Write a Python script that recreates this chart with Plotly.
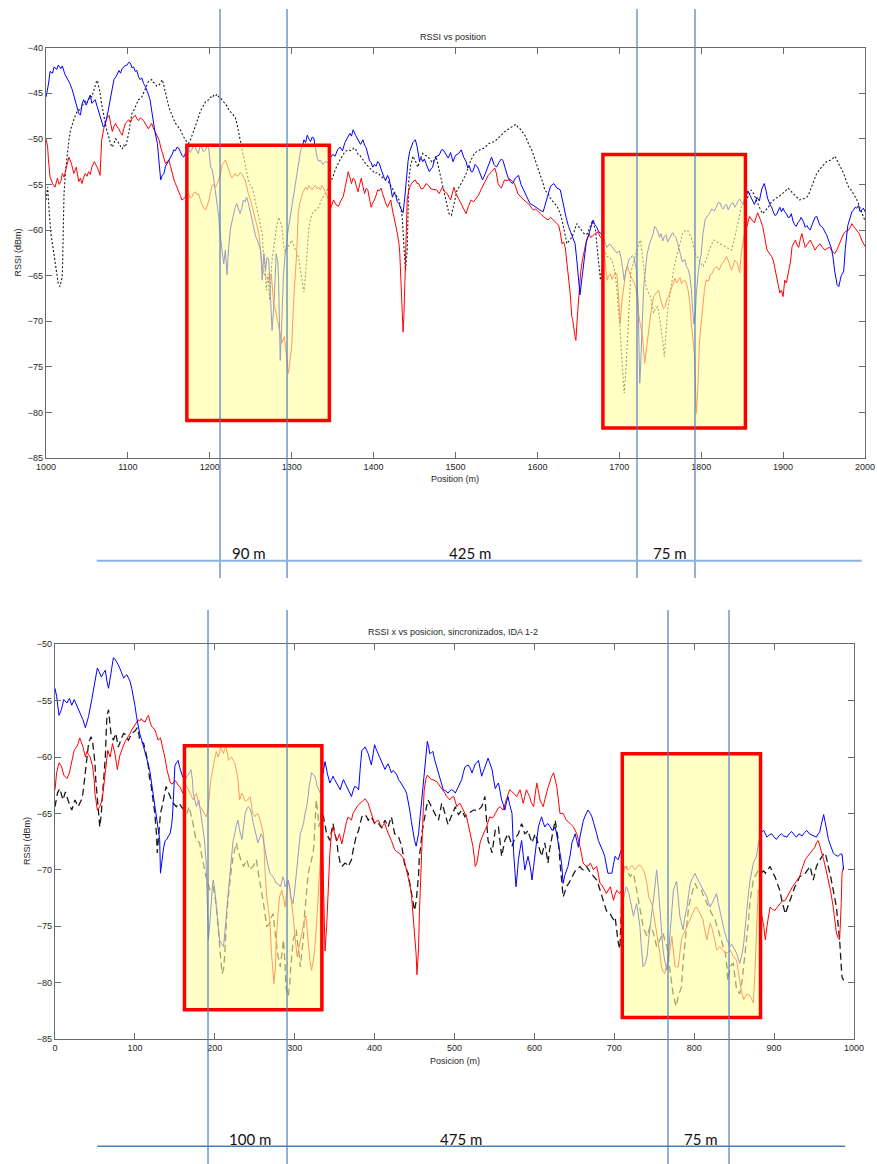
import plotly.graph_objects as go

# ---------------- measured RSSI traces (position m, RSSI dBm) ----------------
# Upper panel: "RSSI vs position"
top_blue = [
    (1000, -45.4), (1003, -44.0), (1005, -42.6), (1008, -42.8), (1010, -42.1), (1013, -42.4), (1015, -41.9), (1018, -42.3),
    (1020, -42.0), (1023, -42.9), (1026, -43.4), (1029, -43.9), (1032, -44.6), (1035, -45.6), (1038, -46.5), (1040, -47.2),
    (1042, -47.4), (1044, -46.2), (1046, -45.7), (1049, -46.3), (1052, -45.6), (1054, -45.2), (1056, -46.1), (1058, -45.9),
    (1060, -45.7), (1063, -46.6), (1066, -47.6), (1068, -48.3), (1070, -48.7), (1072, -48.5), (1074, -47.8), (1076, -46.9),
    (1079, -45.4), (1081, -44.3), (1083, -43.5), (1086, -43.1), (1089, -42.5), (1091, -42.8), (1093, -42.3), (1096, -42.0),
    (1099, -41.9), (1101, -41.6), (1103, -41.7), (1105, -42.2), (1107, -42.1), (1109, -42.6), (1111, -42.5), (1113, -43.2),
    (1115, -43.5), (1117, -43.3), (1119, -43.9), (1121, -44.2), (1123, -44.6), (1125, -45.1), (1127, -45.7), (1129, -46.9),
    (1131, -48.3), (1133, -49.2), (1136, -50.5), (1138, -52.6), (1140, -54.5), (1142, -54.0), (1144, -53.8), (1146, -53.0),
    (1148, -52.7), (1150, -52.4), (1152, -52.0), (1154, -51.7), (1156, -51.2), (1158, -51.3), (1160, -50.9), (1162, -51.0),
    (1164, -51.4), (1166, -51.8), (1168, -52.0), (1171, -51.4), (1174, -50.9), (1176, -51.5), (1178, -51.2), (1180, -50.7),
    (1182, -50.9), (1184, -51.3), (1186, -51.6), (1188, -50.8), (1190, -50.9), (1192, -51.4), (1195, -51.2), (1197, -50.7),
    (1199, -51.2), (1201, -53.1), (1203, -53.4), (1205, -54.5), (1207, -55.8), (1209, -57.1), (1211, -58.6), (1212, -60.0),
    (1214, -61.5), (1215, -62.6), (1217, -63.7), (1219, -62.2), (1221, -64.9), (1223, -62.0), (1225, -60.0), (1227, -59.1),
    (1229, -58.2), (1231, -57.5), (1233, -57.1), (1235, -57.7), (1237, -58.2), (1239, -57.6), (1241, -56.7), (1243, -56.9),
    (1245, -56.4), (1247, -57.0), (1249, -57.8), (1251, -58.7), (1254, -60.0), (1256, -60.7), (1258, -61.1), (1260, -61.8),
    (1262, -62.2), (1264, -65.5), (1266, -62.6), (1268, -64.4), (1270, -63.0), (1272, -63.3), (1274, -66.5), (1275, -68.4),
    (1276, -71.0), (1278, -68.5), (1279, -67.0), (1281, -62.6), (1283, -63.5), (1284, -65.5), (1285, -70.0), (1286, -74.3),
    (1288, -69.9), (1290, -64.8), (1292, -62.6), (1294, -61.5), (1295, -60.4), (1298, -58.6), (1300, -57.5), (1302, -56.4),
    (1304, -55.0), (1306, -53.8), (1308, -52.5), (1311, -51.2), (1313, -50.8), (1315, -50.1), (1317, -50.4), (1319, -49.6),
    (1321, -50.0), (1323, -50.3), (1325, -49.8), (1327, -49.9), (1329, -51.0), (1331, -52.0), (1333, -52.5), (1335, -52.3),
    (1338, -52.8), (1341, -52.5), (1344, -52.6), (1347, -52.2), (1350, -51.7), (1353, -51.9), (1356, -51.2), (1359, -50.9),
    (1362, -51.3), (1365, -50.4), (1367, -50.0), (1369, -49.6), (1371, -49.4), (1373, -49.7), (1375, -49.0), (1378, -49.6),
    (1381, -50.1), (1384, -50.6), (1387, -50.1), (1389, -50.7), (1391, -51.0), (1393, -51.8), (1395, -52.4), (1397, -52.6),
    (1399, -53.1), (1401, -52.8), (1403, -53.0), (1405, -52.5), (1407, -52.7), (1409, -53.3), (1411, -53.8), (1413, -54.3),
    (1415, -54.5), (1417, -54.0), (1419, -54.4), (1421, -55.6), (1423, -56.4), (1425, -55.9), (1427, -56.2), (1429, -56.9),
    (1431, -57.1), (1433, -57.6), (1435, -57.9), (1436, -58.1), (1438, -56.5), (1440, -54.2), (1442, -52.5), (1444, -51.4),
    (1446, -50.9), (1448, -50.4), (1451, -50.1), (1453, -50.8), (1456, -52.4), (1458, -52.1), (1460, -52.5), (1462, -52.2),
    (1464, -52.7), (1466, -53.2), (1468, -53.6), (1470, -53.3), (1472, -53.1), (1474, -52.4), (1477, -51.9), (1480, -51.8),
    (1483, -51.2), (1485, -51.2), (1488, -51.6), (1491, -52.1), (1494, -51.5), (1497, -52.5), (1500, -51.8), (1504, -51.6),
    (1507, -51.2), (1510, -52.0), (1513, -52.5), (1515, -53.2), (1517, -53.0), (1519, -53.6), (1521, -53.6), (1524, -52.8),
    (1527, -53.1), (1530, -53.8), (1533, -54.5), (1536, -53.9), (1538, -53.4), (1541, -52.6), (1544, -52.0), (1547, -52.8),
    (1550, -53.1), (1553, -52.6), (1556, -52.2), (1558, -52.4), (1561, -53.4), (1564, -54.2), (1567, -54.7), (1570, -54.9),
    (1573, -54.3), (1577, -54.0), (1580, -55.0), (1583, -55.6), (1587, -56.2), (1591, -57.1), (1595, -57.3), (1599, -57.6),
    (1603, -57.8), (1607, -58.0), (1610, -57.1), (1613, -56.0), (1616, -55.2), (1620, -54.9), (1624, -55.4), (1628, -55.6),
    (1632, -57.5), (1635, -58.6), (1638, -59.6), (1642, -60.5), (1646, -61.5), (1648, -63.2), (1650, -65.5), (1652, -67.1),
    (1654, -65.6), (1656, -64.0), (1658, -62.5), (1660, -61.1), (1662, -60.7), (1664, -60.0), (1666, -59.6), (1668, -58.9),
    (1670, -59.4), (1672, -59.6), (1675, -60.2), (1678, -60.4), (1681, -61.0), (1685, -61.9), (1688, -61.5), (1691, -61.8),
    (1694, -62.2), (1697, -62.5), (1700, -62.3), (1702, -63.0), (1704, -64.2), (1706, -65.5), (1708, -64.5), (1710, -63.7),
    (1712, -63.2), (1714, -63.0), (1716, -62.8), (1718, -63.0), (1720, -63.8), (1721, -64.5), (1723, -68.0), (1724, -72.0),
    (1725, -76.8), (1726, -75.0), (1727, -72.0), (1729, -68.0), (1730, -66.0), (1732, -64.0), (1734, -62.6), (1737, -61.5),
    (1739, -61.0), (1741, -60.5), (1743, -59.6), (1745, -59.8), (1747, -60.2), (1749, -60.8), (1751, -60.4), (1753, -61.2),
    (1755, -60.7), (1757, -60.5), (1759, -61.3), (1761, -61.0), (1763, -60.6), (1765, -60.3), (1767, -60.6), (1769, -60.8),
    (1771, -61.4), (1773, -62.0), (1775, -62.8), (1777, -63.5), (1780, -63.2), (1782, -64.0), (1784, -64.3), (1786, -65.0),
    (1788, -66.5), (1789, -68.0), (1791, -70.3), (1793, -69.0), (1794, -67.0), (1796, -65.0), (1798, -63.5), (1800, -62.7),
    (1802, -60.5), (1805, -58.8), (1807, -58.6), (1809, -58.3), (1811, -58.0), (1813, -57.7), (1816, -57.9), (1819, -57.4),
    (1821, -57.0), (1823, -57.0), (1825, -57.5), (1827, -57.7), (1829, -57.3), (1831, -57.2), (1833, -57.8), (1835, -57.4),
    (1837, -57.1), (1839, -57.0), (1841, -57.5), (1843, -57.2), (1845, -56.8), (1847, -56.6), (1849, -57.0), (1851, -57.2),
    (1853, -56.5), (1855, -56.3), (1857, -55.7), (1859, -56.1), (1862, -56.8), (1865, -57.2), (1868, -56.4), (1871, -56.8),
    (1874, -55.5), (1877, -54.9), (1879, -55.6), (1881, -56.5), (1884, -57.2), (1886, -57.5), (1888, -58.0), (1890, -58.4),
    (1892, -58.3), (1894, -57.8), (1896, -57.5), (1898, -58.0), (1900, -57.6), (1902, -58.0), (1904, -58.2), (1906, -58.6),
    (1908, -58.6), (1910, -58.2), (1912, -59.0), (1914, -59.4), (1916, -59.6), (1918, -59.2), (1920, -59.0), (1922, -58.6),
    (1925, -59.1), (1927, -59.7), (1929, -59.5), (1931, -59.8), (1933, -60.0), (1935, -59.5), (1937, -59.0), (1939, -58.6),
    (1941, -58.5), (1943, -59.0), (1945, -59.5), (1947, -59.6), (1949, -59.8), (1951, -60.2), (1953, -60.5), (1955, -61.0),
    (1957, -61.5), (1959, -62.0), (1961, -63.0), (1963, -64.5), (1966, -66.0), (1968, -66.2), (1970, -65.4), (1971, -65.0),
    (1974, -64.5), (1976, -62.0), (1979, -59.5), (1982, -58.5), (1984, -58.0), (1986, -57.8), (1988, -57.5), (1990, -57.6),
    (1992, -57.3), (1994, -58.0), (1996, -57.8), (1998, -57.6), (2000, -58.0),
]

top_red = [
    (1000, -50.0), (1002, -50.9), (1003, -52.3), (1005, -54.2), (1008, -54.9), (1011, -55.3), (1014, -54.3), (1016, -55.0),
    (1018, -54.7), (1020, -53.8), (1022, -54.2), (1024, -53.4), (1026, -52.6), (1028, -52.0), (1031, -52.7), (1034, -53.8),
    (1037, -53.1), (1040, -54.7), (1042, -54.3), (1044, -54.9), (1046, -54.2), (1048, -53.8), (1050, -54.1), (1052, -53.6),
    (1054, -53.9), (1056, -53.1), (1059, -52.5), (1062, -53.1), (1064, -53.4), (1066, -54.0), (1067, -52.0), (1068, -50.1),
    (1071, -48.7), (1074, -47.8), (1077, -47.4), (1079, -48.3), (1081, -49.2), (1083, -48.6), (1085, -48.3), (1087, -48.7),
    (1089, -48.9), (1091, -49.3), (1093, -49.6), (1095, -48.9), (1097, -48.3), (1099, -48.1), (1101, -47.9), (1103, -48.2),
    (1105, -47.8), (1107, -47.6), (1109, -47.4), (1111, -47.8), (1113, -48.0), (1115, -47.7), (1117, -47.8), (1119, -48.0),
    (1121, -48.3), (1123, -48.6), (1125, -48.9), (1127, -48.6), (1129, -48.3), (1131, -48.8), (1133, -49.2), (1135, -49.6),
    (1138, -50.1), (1140, -50.9), (1142, -51.6), (1144, -52.3), (1146, -52.7), (1148, -52.5), (1150, -52.3), (1152, -53.0),
    (1154, -53.8), (1156, -54.4), (1158, -54.9), (1160, -55.3), (1162, -55.6), (1164, -56.2), (1166, -56.7), (1168, -56.6),
    (1170, -56.4), (1172, -56.0), (1174, -56.0), (1176, -56.5), (1178, -56.4), (1180, -56.0), (1182, -55.8), (1184, -56.1),
    (1186, -56.0), (1188, -56.6), (1190, -57.1), (1192, -57.5), (1195, -57.8), (1197, -57.3), (1199, -56.7), (1201, -55.8),
    (1203, -55.1), (1205, -55.0), (1207, -55.3), (1209, -54.9), (1211, -54.5), (1213, -53.8), (1215, -52.9), (1217, -52.6),
    (1219, -52.3), (1221, -52.8), (1223, -53.4), (1225, -53.9), (1227, -54.3), (1229, -54.0), (1231, -53.8), (1233, -54.1),
    (1235, -54.0), (1237, -53.7), (1239, -53.8), (1241, -54.2), (1243, -54.5), (1245, -55.2), (1247, -56.0), (1250, -56.8),
    (1252, -57.5), (1254, -58.2), (1256, -58.9), (1258, -59.6), (1260, -60.4), (1262, -62.3), (1264, -64.0), (1266, -64.7),
    (1268, -65.1), (1270, -65.3), (1272, -65.5), (1275, -64.8), (1277, -66.5), (1278, -68.1), (1281, -69.1), (1284, -70.6),
    (1286, -71.5), (1288, -72.4), (1291, -71.7), (1293, -73.5), (1296, -75.7), (1298, -74.3), (1300, -72.8), (1302, -68.4),
    (1304, -65.5), (1306, -62.6), (1308, -58.2), (1310, -57.0), (1312, -56.4), (1314, -55.8), (1317, -55.3), (1319, -55.6),
    (1321, -55.1), (1323, -55.4), (1325, -55.6), (1327, -55.3), (1329, -55.1), (1331, -55.5), (1333, -55.3), (1335, -55.6),
    (1337, -55.1), (1339, -55.4), (1341, -55.8), (1343, -56.3), (1345, -56.7), (1347, -57.8), (1349, -57.2), (1351, -56.7),
    (1354, -57.2), (1357, -57.4), (1360, -56.8), (1363, -56.3), (1366, -55.0), (1369, -53.6), (1371, -54.2), (1373, -54.9),
    (1375, -54.3), (1377, -54.5), (1379, -55.2), (1381, -55.8), (1383, -55.0), (1385, -54.3), (1387, -55.2), (1389, -56.0),
    (1391, -55.4), (1393, -55.6), (1395, -56.6), (1397, -57.5), (1399, -57.0), (1401, -56.7), (1403, -56.2), (1405, -55.6),
    (1407, -55.7), (1409, -55.4), (1411, -56.0), (1413, -56.7), (1415, -57.1), (1417, -57.5), (1419, -57.0), (1421, -56.7),
    (1423, -57.8), (1425, -58.9), (1427, -59.5), (1429, -60.4), (1431, -61.5), (1432, -62.6), (1434, -67.7), (1436, -71.2),
    (1437, -69.5), (1438, -65.9), (1440, -60.0), (1441, -56.7), (1443, -55.6), (1445, -55.1), (1448, -54.7), (1451, -54.5),
    (1453, -54.9), (1455, -54.9), (1458, -55.5), (1461, -55.4), (1464, -54.9), (1467, -55.1), (1470, -55.5), (1474, -55.6),
    (1477, -55.6), (1480, -56.0), (1482, -55.6), (1484, -55.3), (1487, -55.8), (1490, -56.0), (1492, -56.4), (1494, -56.7),
    (1496, -56.0), (1498, -55.3), (1500, -55.9), (1502, -56.2), (1505, -56.8), (1507, -57.1), (1510, -57.7), (1513, -58.2),
    (1516, -57.3), (1519, -56.7), (1522, -56.9), (1525, -56.5), (1528, -56.2), (1531, -55.6), (1534, -55.0), (1537, -54.5),
    (1540, -54.0), (1544, -53.6), (1546, -53.4), (1548, -53.2), (1550, -53.8), (1552, -54.9), (1554, -55.2), (1556, -55.4),
    (1558, -54.9), (1560, -54.5), (1563, -54.6), (1566, -54.4), (1569, -54.6), (1572, -54.9), (1574, -55.4), (1576, -56.0),
    (1580, -56.4), (1583, -56.7), (1586, -56.9), (1589, -57.1), (1592, -57.5), (1595, -57.8), (1598, -57.7), (1601, -58.0),
    (1604, -58.3), (1607, -58.5), (1610, -58.7), (1613, -58.9), (1616, -58.6), (1620, -58.9), (1623, -59.2), (1626, -59.5),
    (1628, -60.3), (1630, -61.5), (1632, -61.3), (1634, -61.9), (1636, -63.6), (1637, -64.0), (1640, -66.9), (1642, -69.5),
    (1643, -69.8), (1646, -71.7), (1647, -72.1), (1649, -69.2), (1651, -66.2), (1653, -64.5), (1655, -63.3), (1657, -62.3),
    (1659, -61.5), (1661, -61.0), (1663, -60.4), (1665, -60.8), (1667, -60.7), (1670, -60.4), (1674, -60.2), (1677, -60.8),
    (1680, -61.1), (1682, -63.0), (1685, -65.5), (1687, -65.0), (1689, -64.8), (1691, -65.4), (1693, -65.1), (1695, -64.6),
    (1697, -64.8), (1699, -67.0), (1701, -70.3), (1703, -68.0), (1706, -65.5), (1708, -64.5), (1710, -64.0), (1712, -64.6),
    (1714, -65.1), (1717, -65.6), (1720, -66.2), (1722, -67.5), (1724, -69.5), (1726, -70.5), (1728, -71.3), (1731, -74.6),
    (1734, -72.1), (1736, -70.6), (1738, -69.5), (1740, -68.2), (1742, -67.3), (1745, -66.9), (1748, -66.6), (1750, -67.5),
    (1752, -68.1), (1754, -68.6), (1756, -68.4), (1758, -67.6), (1760, -67.3), (1762, -66.8), (1764, -66.2), (1766, -65.7),
    (1768, -65.3), (1770, -65.8), (1772, -65.5), (1774, -65.2), (1776, -65.9), (1778, -65.6), (1780, -65.5), (1782, -65.9),
    (1784, -66.6), (1786, -68.0), (1788, -70.3), (1790, -72.0), (1792, -73.9), (1794, -80.1), (1796, -77.2), (1798, -72.1),
    (1800, -70.0), (1802, -68.1), (1804, -66.5), (1806, -65.5), (1809, -65.6), (1811, -64.9), (1813, -64.8), (1816, -64.2),
    (1819, -64.0), (1822, -64.4), (1825, -63.7), (1828, -63.4), (1831, -62.9), (1834, -63.6), (1837, -64.4), (1839, -63.9),
    (1841, -63.3), (1844, -63.6), (1847, -64.7), (1849, -62.5), (1851, -61.1), (1853, -60.3), (1855, -59.9), (1857, -59.0),
    (1859, -58.5), (1862, -58.9), (1865, -59.2), (1867, -58.6), (1869, -58.1), (1872, -58.8), (1875, -59.6), (1878, -61.0),
    (1880, -62.1), (1882, -62.4), (1884, -62.6), (1886, -62.9), (1888, -63.3), (1890, -64.2), (1892, -65.1), (1894, -66.0),
    (1896, -66.9), (1898, -66.6), (1900, -67.3), (1902, -65.5), (1904, -65.8), (1907, -64.4), (1909, -63.5), (1911, -61.8),
    (1913, -61.5), (1915, -61.1), (1917, -61.6), (1919, -61.9), (1921, -61.0), (1923, -60.4), (1925, -61.2), (1927, -61.9),
    (1930, -61.5), (1933, -61.1), (1936, -61.6), (1939, -62.2), (1942, -61.8), (1945, -61.5), (1948, -61.9), (1951, -62.2),
    (1954, -62.0), (1957, -61.9), (1960, -62.3), (1963, -62.6), (1966, -62.1), (1968, -61.7), (1971, -61.0), (1974, -60.4),
    (1977, -60.1), (1980, -60.0), (1982, -59.7), (1984, -59.3), (1987, -59.7), (1990, -60.0), (1993, -60.4), (1996, -61.1),
    (1998, -61.4), (2000, -61.8),
]

top_black = [
    (1000, -56.7), (1002, -55.3), (1004, -58.2), (1006, -60.4), (1009, -62.2), (1011, -63.3), (1013, -64.8), (1015, -65.9),
    (1017, -66.2), (1019, -65.5), (1020, -64.8), (1021, -58.2), (1022, -56.0), (1024, -53.4), (1026, -51.6), (1028, -50.1),
    (1030, -49.0), (1032, -48.3), (1034, -47.9), (1036, -47.4), (1038, -47.0), (1040, -46.8), (1042, -46.9), (1044, -46.5),
    (1046, -46.0), (1048, -45.9), (1050, -46.1), (1052, -45.7), (1054, -45.3), (1056, -45.4), (1058, -44.8), (1060, -44.1),
    (1062, -43.6), (1063, -43.7), (1065, -44.4), (1066, -45.0), (1068, -46.2), (1070, -47.2), (1072, -48.2), (1074, -49.0),
    (1076, -49.6), (1077, -50.0), (1079, -50.6), (1081, -50.9), (1083, -50.4), (1085, -50.0), (1087, -50.2), (1089, -50.5),
    (1091, -50.8), (1093, -51.1), (1095, -50.7), (1097, -50.9), (1099, -50.2), (1101, -49.4), (1103, -48.2), (1105, -47.2),
    (1107, -46.9), (1109, -46.5), (1111, -46.0), (1113, -45.7), (1115, -45.6), (1117, -45.4), (1119, -45.0), (1121, -44.6),
    (1123, -44.1), (1125, -43.7), (1127, -43.6), (1129, -43.5), (1131, -43.8), (1133, -43.9), (1135, -44.2), (1138, -44.1),
    (1140, -43.8), (1142, -43.5), (1144, -44.2), (1146, -45.0), (1148, -45.8), (1150, -46.5), (1152, -47.0), (1154, -47.4),
    (1156, -47.9), (1158, -48.3), (1160, -48.5), (1162, -48.7), (1164, -49.0), (1166, -49.4), (1168, -49.8), (1170, -50.1),
    (1172, -50.3), (1174, -50.5), (1176, -50.2), (1178, -49.8), (1180, -49.2), (1182, -48.7), (1184, -48.1), (1186, -47.6),
    (1188, -47.1), (1190, -46.7), (1192, -46.3), (1195, -45.9), (1197, -45.8), (1199, -45.7), (1201, -45.4), (1203, -45.5),
    (1205, -45.2), (1207, -45.3), (1209, -45.1), (1211, -45.4), (1213, -45.5), (1215, -45.7), (1217, -45.9), (1219, -46.1),
    (1221, -46.4), (1223, -46.8), (1225, -47.0), (1227, -47.2), (1229, -47.3), (1231, -47.6), (1233, -48.3), (1235, -49.2),
    (1237, -50.0), (1239, -50.9), (1241, -52.0), (1243, -53.1), (1245, -53.9), (1247, -54.5), (1249, -55.0), (1252, -55.4),
    (1254, -56.2), (1256, -57.1), (1258, -57.9), (1260, -58.6), (1262, -59.5), (1264, -60.4), (1265, -62.0), (1267, -63.3),
    (1269, -66.6), (1271, -64.8), (1273, -67.7), (1275, -65.0), (1276, -63.3), (1278, -62.0), (1279, -61.1), (1281, -60.0),
    (1284, -58.6), (1286, -59.0), (1288, -59.6), (1290, -61.5), (1292, -62.6), (1294, -62.0), (1296, -61.8), (1298, -61.5),
    (1300, -61.1), (1302, -61.6), (1304, -62.2), (1306, -62.5), (1308, -62.9), (1310, -64.0), (1311, -64.8), (1313, -65.9),
    (1315, -66.8), (1317, -64.8), (1319, -62.6), (1321, -59.6), (1323, -58.8), (1325, -58.2), (1327, -58.0), (1329, -57.8),
    (1331, -57.7), (1333, -57.5), (1335, -57.0), (1337, -56.5), (1339, -56.3), (1341, -56.0), (1343, -55.6), (1345, -55.3),
    (1347, -54.9), (1349, -54.5), (1351, -54.0), (1353, -53.4), (1355, -53.0), (1357, -52.7), (1359, -52.3), (1361, -52.0),
    (1363, -51.7), (1365, -51.4), (1367, -51.3), (1370, -51.2), (1372, -51.3), (1374, -51.2), (1376, -51.0), (1378, -51.1),
    (1380, -51.5), (1382, -51.8), (1384, -51.9), (1386, -52.1), (1388, -52.4), (1390, -52.7), (1392, -52.9), (1394, -53.1),
    (1396, -53.2), (1398, -53.4), (1400, -53.6), (1402, -53.8), (1404, -53.7), (1406, -53.8), (1408, -54.0), (1410, -54.2),
    (1412, -54.3), (1414, -54.5), (1416, -54.6), (1418, -54.7), (1420, -55.0), (1422, -55.3), (1424, -55.6), (1427, -56.0),
    (1429, -56.3), (1431, -56.7), (1433, -57.5), (1435, -58.6), (1437, -61.8), (1439, -64.4), (1441, -62.2), (1442, -58.0),
    (1443, -54.5), (1445, -53.0), (1447, -52.0), (1448, -51.9), (1451, -52.4), (1454, -53.1), (1457, -52.2), (1460, -51.6),
    (1463, -51.8), (1466, -51.9), (1469, -52.3), (1472, -52.6), (1474, -52.3), (1476, -51.9), (1478, -52.6), (1480, -53.4),
    (1482, -54.4), (1484, -55.3), (1486, -56.0), (1488, -56.7), (1490, -57.5), (1492, -58.2), (1495, -58.4), (1498, -57.1),
    (1500, -56.3), (1502, -55.6), (1505, -55.2), (1507, -54.9), (1509, -54.5), (1511, -54.2), (1513, -53.8), (1515, -53.4),
    (1517, -52.8), (1519, -52.3), (1521, -51.9), (1523, -51.6), (1526, -51.4), (1529, -51.2), (1532, -51.1), (1535, -51.0),
    (1538, -50.7), (1541, -50.5), (1544, -50.4), (1548, -50.3), (1551, -50.0), (1554, -49.8), (1557, -49.5), (1560, -49.2),
    (1563, -49.0), (1566, -48.9), (1569, -48.6), (1572, -48.5), (1574, -48.4), (1576, -48.7), (1578, -48.8), (1580, -49.0),
    (1583, -49.4), (1586, -49.8), (1589, -50.5), (1593, -51.2), (1596, -52.0), (1599, -52.7), (1602, -53.4), (1605, -54.2),
    (1607, -54.9), (1609, -55.6), (1611, -55.8), (1613, -56.0), (1615, -56.4), (1617, -56.7), (1620, -57.0), (1624, -57.4),
    (1626, -57.8), (1628, -58.2), (1630, -58.9), (1632, -59.6), (1634, -60.6), (1636, -61.5), (1638, -61.3), (1640, -61.1),
    (1642, -60.8), (1644, -60.4), (1646, -59.8), (1648, -59.3), (1651, -59.7), (1655, -60.2), (1658, -60.5), (1661, -60.4),
    (1664, -59.6), (1667, -59.0), (1669, -59.5), (1671, -60.0), (1673, -62.0), (1675, -64.1), (1677, -65.5), (1679, -64.0),
    (1681, -62.2), (1683, -62.5), (1685, -62.9), (1688, -63.0), (1691, -63.3), (1693, -64.0), (1695, -64.8), (1697, -66.5),
    (1699, -68.4), (1701, -71.0), (1703, -73.9), (1705, -76.5), (1706, -77.9), (1708, -75.5), (1710, -72.1), (1712, -68.0),
    (1714, -64.8), (1716, -64.0), (1718, -63.3), (1720, -62.5), (1722, -61.8), (1724, -61.4), (1726, -61.1), (1728, -62.8),
    (1730, -64.8), (1732, -65.8), (1734, -66.6), (1736, -67.0), (1738, -67.3), (1740, -68.2), (1742, -69.1), (1744, -68.6),
    (1747, -68.4), (1749, -69.5), (1751, -70.6), (1753, -72.2), (1755, -73.9), (1757, -71.0), (1759, -68.8), (1761, -67.6),
    (1763, -66.6), (1765, -65.2), (1767, -64.0), (1769, -63.3), (1771, -62.6), (1773, -61.8), (1775, -61.1), (1777, -60.4),
    (1780, -60.1), (1783, -60.0), (1786, -60.5), (1789, -61.1), (1791, -62.0), (1794, -62.9), (1796, -63.0), (1798, -63.3),
    (1800, -63.6), (1802, -64.0), (1804, -63.7), (1806, -63.3), (1808, -62.8), (1810, -62.2), (1812, -61.7), (1815, -61.1),
    (1819, -61.3), (1823, -61.5), (1827, -61.7), (1831, -61.9), (1834, -62.0), (1837, -62.2), (1840, -61.2), (1843, -60.0),
    (1846, -58.8), (1849, -57.5), (1852, -57.0), (1855, -56.7), (1858, -56.2), (1861, -55.6), (1864, -56.0), (1867, -56.7),
    (1871, -57.5), (1875, -58.2), (1878, -57.9), (1882, -57.5), (1885, -57.0), (1888, -56.7), (1891, -56.5), (1894, -56.4),
    (1897, -56.2), (1900, -56.0), (1903, -55.7), (1906, -55.4), (1909, -55.7), (1912, -56.0), (1916, -56.4), (1920, -56.7),
    (1924, -56.6), (1929, -56.4), (1932, -55.9), (1935, -55.3), (1938, -54.5), (1941, -53.8), (1944, -53.4), (1947, -53.1),
    (1950, -52.8), (1953, -52.5), (1956, -52.4), (1959, -52.3), (1961, -52.1), (1963, -51.9), (1965, -52.2), (1968, -52.7),
    (1971, -53.2), (1974, -53.8), (1977, -54.6), (1980, -55.3), (1983, -55.6), (1986, -56.0), (1989, -56.5), (1992, -57.1),
    (1995, -57.8), (1998, -58.6), (2000, -59.0),
]

# Lower panel: "RSSI x vs posicion, sincronizados, IDA 1-2"
bot_blue = [
    (0, -53.9), (2, -54.6), (5, -56.3), (8, -55.8), (11, -54.9), (15, -55.2), (18, -54.8), (21, -55.4), (24, -54.9),
    (27, -55.4), (31, -56.1), (35, -56.7), (38, -57.4), (42, -56.4), (46, -54.9), (50, -53.2), (53, -52.1), (55, -52.4),
    (58, -52.9), (61, -52.5), (63, -52.3), (65, -53.3), (67, -53.9), (70, -52.6), (73, -51.2), (75, -51.3), (77, -51.5),
    (79, -51.8), (81, -52.1), (84, -52.6), (86, -53.0), (88, -52.8), (90, -52.7), (92, -53.0), (94, -53.3), (96, -53.9),
    (98, -54.6), (100, -55.4), (102, -56.4), (104, -57.2), (106, -57.9), (109, -58.6), (111, -59.1), (113, -59.5),
    (115, -60.0), (117, -60.7), (119, -61.4), (121, -62.4), (123, -63.5), (125, -64.4), (127, -65.3), (129, -66.2),
    (131, -67.3), (132, -70.3), (134, -69.1), (136, -68.0), (138, -67.4), (140, -67.3), (142, -67.0), (144, -66.8),
    (146, -66.0), (147, -65.3), (149, -62.5), (150, -60.8), (152, -60.5), (154, -60.3), (156, -60.9), (158, -61.4),
    (160, -61.8), (163, -62.0), (165, -61.8), (167, -61.6), (169, -61.3), (170, -61.1), (172, -62.0), (173, -63.2),
    (175, -63.8), (177, -64.4), (179, -64.0), (180, -63.8), (182, -64.8), (184, -65.9), (186, -66.8), (187, -67.3),
    (189, -69.1), (190, -72.0), (192, -76.2), (194, -74.5), (195, -73.3), (197, -71.5), (198, -70.9), (200, -71.8),
    (202, -73.3), (204, -74.8), (206, -76.2), (208, -76.5), (211, -76.8), (213, -75.2), (215, -73.3), (217, -71.8),
    (219, -70.3), (221, -68.8), (223, -67.4), (225, -66.8), (227, -66.0), (229, -65.6), (231, -66.5), (234, -67.3),
    (236, -66.2), (238, -65.0), (240, -64.6), (242, -64.4), (244, -64.6), (246, -65.0), (248, -65.8), (250, -66.5),
    (252, -67.0), (254, -67.6), (256, -67.2), (258, -66.8), (260, -67.1), (261, -67.4), (263, -68.2), (265, -69.1),
    (267, -69.8), (269, -70.3), (271, -70.5), (273, -70.6), (275, -70.9), (277, -71.2), (280, -71.3), (282, -71.5),
    (284, -71.0), (285, -70.6), (287, -71.0), (288, -71.5), (290, -71.2), (292, -70.9), (294, -71.6), (295, -72.4),
    (297, -72.8), (298, -73.0), (300, -71.8), (302, -70.3), (304, -69.2), (305, -68.5), (307, -66.8), (309, -66.4),
    (311, -65.9), (313, -65.0), (315, -64.4), (317, -63.4), (318, -62.6), (320, -61.9), (321, -61.4), (323, -61.5),
    (325, -61.7), (327, -62.1), (328, -62.6), (330, -62.9), (332, -63.2), (334, -62.0), (336, -61.0), (338, -60.4),
    (341, -61.5), (344, -62.3), (346, -62.0), (348, -61.7), (350, -62.0), (352, -62.3), (355, -62.6), (357, -62.9),
    (359, -62.4), (361, -62.0), (363, -62.3), (365, -62.6), (368, -63.0), (371, -63.5), (373, -63.0), (375, -62.6),
    (378, -62.7), (380, -62.9), (382, -61.0), (384, -59.4), (386, -59.3), (388, -59.1), (390, -59.4), (392, -59.7),
    (394, -60.2), (396, -60.7), (398, -59.8), (400, -58.9), (402, -59.3), (405, -59.8), (407, -60.2), (409, -60.6),
    (411, -60.8), (413, -61.1), (415, -60.8), (417, -60.6), (419, -61.0), (421, -61.4), (423, -61.2), (425, -61.3),
    (428, -61.6), (430, -62.0), (433, -62.3), (436, -62.6), (438, -62.9), (440, -63.2), (442, -63.9), (444, -64.7),
    (446, -65.7), (448, -66.8), (450, -67.4), (452, -67.9), (454, -67.3), (455, -66.8), (457, -65.3), (459, -63.8),
    (461, -62.3), (463, -60.9), (465, -59.5), (466, -58.6), (468, -59.2), (469, -59.7), (471, -59.6), (473, -59.5),
    (475, -60.2), (478, -60.9), (480, -61.4), (482, -62.0), (484, -62.5), (486, -62.9), (489, -63.0), (492, -63.2),
    (494, -63.0), (496, -62.9), (499, -63.0), (501, -63.2), (503, -62.9), (505, -62.6), (507, -62.3), (509, -62.0),
    (511, -61.4), (513, -60.9), (515, -60.8), (517, -60.7), (519, -60.9), (522, -61.4), (524, -61.0), (526, -60.6),
    (528, -60.5), (530, -60.3), (532, -61.0), (534, -61.7), (536, -61.3), (538, -60.9), (540, -60.5), (542, -60.1),
    (544, -60.5), (547, -61.1), (549, -62.0), (551, -62.8), (553, -62.5), (555, -62.3), (557, -63.0), (559, -63.8),
    (561, -64.2), (563, -64.7), (565, -64.0), (567, -63.5), (569, -64.2), (572, -65.0), (574, -68.5), (576, -70.5),
    (577, -71.5), (579, -70.0), (580, -69.1), (582, -68.2), (584, -67.4), (586, -68.7), (588, -70.0), (590, -69.4),
    (592, -68.8), (595, -69.8), (597, -70.9), (599, -69.7), (601, -68.5), (603, -67.3), (605, -66.2), (607, -65.7),
    (609, -65.3), (611, -65.8), (613, -66.2), (615, -66.0), (617, -65.9), (620, -66.2), (622, -66.5), (624, -66.4),
    (626, -66.2), (628, -66.9), (630, -67.6), (632, -68.5), (634, -69.4), (636, -71.2), (638, -70.5), (640, -70.0),
    (642, -69.7), (645, -68.6), (647, -67.6), (649, -67.2), (651, -66.8), (653, -67.4), (655, -68.0), (657, -67.1),
    (659, -66.2), (661, -65.7), (663, -65.3), (665, -65.0), (667, -64.7), (670, -65.0), (672, -65.3), (674, -65.8),
    (676, -66.2), (678, -66.8), (680, -67.4), (682, -67.7), (684, -68.0), (686, -68.4), (688, -68.8), (690, -69.6),
    (692, -70.3), (695, -70.3), (697, -70.3), (699, -69.5), (701, -68.8), (703, -69.0), (705, -69.1), (707, -68.6),
    (709, -68.2), (711, -72.7), (713, -72.0), (715, -71.5), (718, -72.0), (720, -72.7), (722, -73.4), (724, -74.1),
    (726, -73.5), (728, -73.0), (730, -74.0), (732, -75.0), (734, -77.0), (736, -78.6), (738, -78.4), (741, -77.7),
    (743, -76.2), (745, -74.7), (747, -73.7), (749, -72.7), (751, -71.3), (753, -70.0), (755, -71.5), (757, -73.3),
    (759, -75.2), (761, -77.1), (763, -78.0), (766, -78.9), (768, -77.3), (770, -75.6), (772, -73.7), (774, -71.8),
    (776, -71.4), (778, -71.0), (780, -72.5), (782, -74.1), (784, -74.7), (786, -75.3), (788, -74.3), (791, -73.3),
    (793, -72.2), (795, -71.2), (798, -70.7), (801, -70.3), (804, -70.8), (807, -71.2), (809, -71.5), (811, -71.8),
    (814, -72.1), (816, -72.4), (818, -72.9), (820, -73.3), (822, -73.0), (824, -72.7), (826, -72.4), (828, -72.1),
    (830, -72.9), (832, -73.6), (834, -74.2), (836, -74.7), (838, -75.5), (841, -76.2), (843, -76.5), (845, -76.8),
    (847, -76.6), (849, -76.8), (851, -77.1), (853, -77.4), (855, -77.8), (857, -78.3), (860, -77.4), (862, -76.5),
    (864, -75.0), (866, -73.3), (868, -72.0), (870, -70.9), (872, -70.1), (874, -69.4), (876, -69.1), (878, -68.8),
    (880, -67.8), (883, -66.8), (885, -66.6), (887, -66.5), (889, -66.8), (891, -67.1), (894, -66.9), (897, -66.8),
    (900, -67.1), (903, -67.3), (906, -67.0), (909, -66.8), (912, -67.0), (916, -67.1), (919, -66.8), (922, -66.6),
    (925, -66.9), (928, -67.1), (931, -66.8), (935, -67.0), (938, -66.7), (941, -66.5), (944, -66.8), (947, -66.9),
    (950, -67.0), (953, -67.1), (955, -66.8), (957, -66.7), (959, -66.0), (962, -65.1), (964, -65.8), (966, -66.6),
    (968, -67.3), (971, -67.9), (974, -68.5), (977, -68.7), (980, -68.8), (983, -68.6), (985, -68.6), (987, -70.0),
]

bot_red = [
    (0, -62.9), (2, -61.4), (5, -60.5), (8, -60.8), (11, -61.6), (15, -61.9), (18, -61.4), (21, -60.5), (24, -59.4),
    (27, -59.1), (29, -58.8), (31, -58.3), (33, -58.7), (35, -59.1), (38, -60.0), (40, -59.5), (42, -59.8), (44, -60.0),
    (47, -60.8), (49, -62.0), (50, -63.2), (53, -64.7), (56, -64.4), (59, -63.8), (61, -62.6), (63, -61.4), (66, -59.4),
    (69, -60.0), (72, -58.8), (75, -59.7), (78, -61.1), (81, -59.9), (83, -59.4), (85, -59.1), (88, -58.6), (90, -58.4),
    (92, -58.2), (94, -57.9), (96, -57.6), (98, -57.4), (100, -57.2), (102, -56.9), (104, -56.7), (106, -56.8),
    (108, -56.6), (110, -56.8), (113, -56.9), (115, -56.5), (117, -56.3), (119, -56.9), (121, -57.3), (123, -57.4),
    (125, -57.6), (127, -58.0), (129, -58.5), (132, -58.3), (134, -58.9), (136, -59.4), (138, -60.2), (140, -61.1),
    (142, -61.8), (144, -62.2), (146, -62.4), (148, -62.3), (150, -62.1), (152, -62.2), (154, -62.5), (156, -62.6),
    (158, -62.9), (160, -63.2), (162, -62.8), (163, -62.5), (165, -62.6), (167, -62.9), (169, -63.2), (171, -63.5),
    (173, -63.8), (175, -63.5), (177, -63.2), (179, -63.8), (181, -64.4), (183, -64.5), (185, -64.7), (187, -65.0),
    (189, -65.3), (191, -64.9), (192, -64.4), (194, -63.0), (195, -62.0), (197, -61.3), (198, -60.8), (200, -60.1),
    (202, -59.5), (204, -60.0), (206, -59.6), (207, -59.1), (209, -59.4), (211, -59.7), (212, -59.3), (214, -59.1),
    (216, -59.8), (217, -60.3), (219, -60.1), (221, -60.0), (223, -60.3), (225, -60.5), (227, -61.2), (229, -62.0),
    (231, -63.8), (233, -63.5), (234, -63.2), (236, -63.5), (237, -63.8), (239, -63.9), (241, -63.8), (243, -63.6),
    (244, -63.5), (246, -64.2), (247, -65.0), (249, -65.1), (250, -65.3), (252, -65.1), (254, -65.0), (256, -65.4),
    (258, -65.9), (260, -66.5), (261, -66.8), (263, -70.3), (265, -72.4), (267, -73.5), (269, -74.7), (271, -77.4),
    (273, -79.0), (274, -80.1), (276, -78.5), (277, -76.2), (279, -74.0), (281, -72.4), (283, -72.0), (284, -71.8),
    (286, -72.5), (288, -73.3), (290, -72.0), (292, -71.0), (294, -71.8), (296, -72.7), (298, -74.0), (300, -75.6),
    (302, -77.0), (303, -77.7), (305, -77.0), (307, -76.2), (309, -75.5), (310, -75.0), (312, -74.5), (314, -74.1),
    (316, -75.5), (317, -76.8), (319, -78.0), (321, -78.9), (323, -78.2), (325, -77.1), (327, -75.5), (328, -74.1),
    (330, -71.5), (332, -69.1), (334, -66.8), (335, -68.5), (336, -72.0), (338, -77.2), (340, -75.0), (342, -71.0),
    (344, -68.5), (346, -66.8), (348, -66.2), (350, -66.8), (353, -67.4), (356, -66.8), (359, -67.7), (361, -67.0),
    (363, -66.2), (365, -65.7), (367, -65.3), (369, -65.5), (371, -65.6), (373, -65.0), (375, -64.7), (378, -64.4),
    (380, -64.2), (382, -64.1), (385, -63.9), (388, -63.7), (390, -63.9), (392, -64.1), (394, -64.6), (396, -65.0),
    (398, -65.5), (400, -65.9), (402, -65.7), (405, -65.6), (407, -66.0), (409, -66.2), (411, -66.0), (413, -65.9),
    (415, -66.4), (417, -66.8), (419, -67.1), (421, -67.4), (423, -67.8), (425, -68.2), (428, -68.4), (430, -68.5),
    (432, -68.6), (434, -68.8), (436, -69.0), (438, -69.4), (440, -70.0), (442, -70.6), (444, -71.3), (446, -72.1),
    (447, -73.0), (449, -74.1), (450, -75.5), (452, -77.5), (453, -79.3), (455, -77.0), (456, -74.0), (458, -70.0),
    (459, -67.0), (461, -64.5), (462, -63.0), (464, -62.0), (466, -61.6), (468, -61.8), (471, -62.0), (473, -62.0),
    (476, -62.1), (478, -62.2), (480, -62.4), (482, -62.6), (484, -62.8), (486, -62.9), (488, -63.2), (490, -63.5),
    (492, -63.6), (494, -63.8), (496, -63.6), (499, -63.5), (501, -64.0), (503, -64.4), (505, -64.2), (507, -64.1),
    (509, -64.4), (511, -64.7), (513, -65.0), (515, -65.3), (517, -65.9), (519, -66.5), (521, -67.2), (523, -67.9),
    (525, -69.0), (526, -69.7), (528, -69.4), (530, -68.4), (532, -67.6), (534, -67.2), (536, -66.8), (538, -66.5),
    (540, -66.2), (542, -65.7), (544, -65.3), (547, -65.4), (549, -65.3), (551, -65.0), (553, -64.7), (555, -64.5),
    (557, -64.4), (559, -64.6), (561, -64.7), (563, -64.2), (565, -63.8), (567, -63.3), (569, -62.9), (571, -63.0),
    (574, -63.2), (576, -63.4), (578, -63.5), (580, -63.2), (582, -62.9), (584, -63.5), (586, -64.1), (588, -63.5),
    (590, -62.9), (592, -63.2), (594, -63.5), (596, -64.0), (599, -64.4), (601, -63.3), (603, -62.3), (605, -63.0),
    (607, -63.8), (609, -64.1), (611, -64.4), (613, -63.8), (615, -63.2), (617, -62.7), (619, -62.3), (621, -61.8),
    (624, -61.4), (626, -62.0), (628, -62.6), (630, -63.8), (632, -65.0), (634, -65.0), (636, -65.0), (638, -65.3),
    (640, -65.6), (642, -65.7), (644, -65.9), (646, -66.0), (649, -66.2), (651, -66.5), (653, -66.8), (655, -67.3),
    (657, -67.9), (659, -68.6), (661, -69.4), (663, -69.6), (665, -69.7), (668, -69.6), (670, -69.4), (672, -69.7),
    (674, -70.0), (676, -69.8), (678, -69.7), (680, -70.4), (682, -71.2), (684, -71.3), (686, -71.5), (688, -71.8),
    (690, -72.1), (692, -71.8), (695, -71.5), (697, -72.1), (699, -72.7), (701, -72.2), (703, -71.8), (705, -72.0),
    (707, -72.1), (709, -71.8), (711, -70.8), (713, -69.7), (715, -69.9), (718, -70.0), (720, -69.8), (722, -69.6),
    (724, -69.8), (726, -70.0), (728, -69.8), (730, -69.6), (732, -69.6), (734, -69.7), (736, -70.0), (738, -70.3),
    (741, -71.3), (743, -72.4), (745, -72.7), (747, -73.0), (749, -73.8), (751, -74.7), (753, -75.4), (755, -76.2),
    (757, -77.4), (759, -78.6), (761, -79.0), (763, -79.2), (765, -78.6), (768, -78.0), (770, -77.0), (772, -75.9),
    (774, -77.2), (776, -78.6), (778, -78.6), (780, -78.6), (782, -77.4), (784, -76.2), (786, -75.8), (789, -75.3),
    (791, -75.0), (793, -74.7), (796, -74.1), (799, -73.6), (801, -73.4), (803, -73.3), (805, -73.6), (807, -73.9),
    (809, -74.1), (811, -74.4), (813, -75.3), (816, -76.2), (818, -75.4), (820, -74.7), (822, -75.1), (824, -75.6),
    (826, -76.3), (828, -77.1), (830, -77.0), (832, -76.8), (834, -77.0), (836, -77.1), (838, -77.3), (841, -77.4),
    (843, -77.2), (845, -77.1), (847, -77.4), (849, -77.7), (851, -77.8), (853, -78.0), (855, -78.9), (857, -79.8),
    (859, -80.7), (862, -81.5), (864, -81.2), (866, -81.0), (868, -81.1), (870, -81.2), (872, -81.5), (874, -81.8),
    (876, -79.2), (878, -74.7), (880, -71.8), (882, -72.5), (884, -73.8), (887, -75.0), (889, -76.2), (891, -75.0),
    (893, -74.0), (895, -73.3), (898, -73.5), (901, -73.6), (904, -73.3), (907, -73.0), (910, -72.8), (914, -72.7),
    (917, -72.3), (920, -71.8), (923, -71.5), (926, -71.2), (929, -70.9), (932, -70.6), (935, -69.9), (939, -69.1),
    (942, -68.8), (945, -68.5), (948, -68.2), (951, -68.0), (953, -67.6), (955, -67.4), (957, -67.8), (960, -68.5),
    (962, -69.1), (965, -70.0), (968, -70.9), (971, -72.0), (974, -73.3), (976, -74.5), (978, -75.6), (980, -76.0),
    (982, -76.2), (984, -73.0), (985, -70.3), (987, -69.7),
]

bot_black = [
    (0, -64.4), (3, -63.2), (6, -62.8), (8, -63.3), (10, -63.8), (13, -63.1), (15, -63.6), (17, -64.1), (19, -64.4),
    (21, -64.7), (23, -64.2), (25, -63.8), (27, -64.1), (29, -64.4), (31, -64.1), (33, -63.8), (35, -63.2), (36, -62.6),
    (38, -61.3), (39, -60.3), (41, -59.4), (42, -58.8), (44, -58.4), (45, -58.2), (47, -58.6), (48, -59.1), (50, -60.5),
    (51, -62.0), (53, -64.1), (55, -65.3), (56, -66.2), (58, -65.0), (59, -63.8), (61, -62.0), (63, -60.0), (64, -58.0),
    (65, -56.4), (67, -55.8), (69, -56.9), (70, -57.9), (72, -58.3), (73, -58.5), (75, -58.1), (76, -57.9), (78, -58.6),
    (79, -59.1), (81, -58.8), (82, -58.5), (84, -58.2), (86, -57.9), (88, -58.0), (89, -58.2), (91, -58.4), (92, -58.5),
    (94, -58.2), (96, -57.9), (98, -57.8), (100, -57.7), (102, -57.5), (103, -57.4), (105, -58.0), (106, -58.5),
    (108, -58.6), (111, -58.8), (113, -59.4), (115, -60.0), (117, -60.9), (118, -61.7), (120, -62.4), (121, -62.9),
    (123, -64.0), (125, -65.0), (126, -66.0), (127, -66.8), (128, -68.5), (129, -67.4), (131, -66.0), (132, -65.0),
    (134, -64.4), (136, -63.8), (138, -63.0), (139, -62.6), (141, -63.0), (142, -63.2), (144, -63.6), (145, -63.8),
    (147, -64.0), (148, -64.1), (150, -64.3), (152, -64.4), (154, -64.2), (156, -64.1), (158, -64.4), (161, -64.7),
    (163, -64.9), (165, -65.0), (168, -64.4), (170, -65.0), (171, -65.3), (173, -66.0), (175, -66.8), (177, -67.4),
    (179, -67.5), (181, -67.6), (183, -68.5), (186, -69.7), (188, -70.3), (190, -70.9), (192, -71.4), (194, -71.8),
    (196, -71.6), (198, -71.5), (200, -72.3), (202, -73.3), (204, -75.0), (206, -76.5), (207, -77.1), (209, -79.2),
    (211, -78.8), (212, -78.0), (214, -75.5), (215, -73.9), (217, -72.3), (219, -70.9), (221, -69.8), (223, -68.8),
    (225, -68.2), (227, -67.6), (229, -68.3), (232, -69.1), (234, -69.4), (236, -69.7), (238, -69.4), (240, -69.1),
    (242, -69.6), (244, -70.0), (246, -69.8), (248, -69.7), (250, -69.4), (252, -69.1), (254, -70.1), (257, -71.2),
    (259, -72.0), (261, -73.0), (263, -74.0), (265, -75.0), (267, -74.9), (269, -74.7), (271, -74.2), (273, -73.9),
    (275, -75.3), (277, -76.8), (279, -77.6), (282, -78.6), (284, -77.5), (286, -76.2), (288, -78.5), (289, -80.4),
    (291, -81.0), (292, -81.2), (294, -80.0), (295, -78.6), (297, -77.2), (298, -76.2), (300, -75.8), (302, -75.3),
    (303, -76.2), (305, -77.1), (307, -78.6), (309, -77.2), (311, -75.9), (312, -74.2), (314, -72.4), (316, -71.3),
    (317, -70.3), (319, -69.7), (321, -69.1), (323, -68.5), (324, -67.9), (326, -65.8), (327, -63.8), (329, -65.0),
    (330, -66.2), (332, -65.5), (334, -64.8), (336, -65.3), (338, -66.0), (340, -66.8), (342, -67.1), (344, -67.4),
    (346, -66.6), (348, -65.9), (350, -66.7), (353, -67.6), (354, -68.3), (356, -69.1), (357, -69.4), (359, -69.7),
    (361, -69.5), (363, -69.4), (365, -69.5), (367, -69.7), (369, -69.4), (371, -69.1), (373, -68.3), (375, -67.6),
    (377, -67.0), (380, -66.5), (382, -65.9), (384, -65.3), (386, -65.2), (388, -65.1), (390, -65.3), (392, -65.6),
    (394, -65.4), (396, -65.3), (398, -65.6), (400, -65.9), (402, -65.8), (405, -65.9), (407, -66.1), (409, -66.3),
    (411, -65.9), (413, -65.6), (415, -65.9), (417, -66.2), (419, -65.7), (421, -65.3), (423, -66.0), (425, -66.8),
    (428, -66.9), (430, -67.1), (432, -67.5), (434, -67.9), (436, -68.8), (438, -69.7), (440, -70.0), (442, -70.3),
    (444, -71.2), (446, -72.1), (448, -72.9), (450, -73.6), (452, -72.8), (453, -72.1), (455, -70.5), (456, -68.8),
    (458, -67.8), (459, -66.8), (461, -65.9), (463, -65.0), (465, -64.4), (467, -63.8), (469, -64.1), (471, -64.4),
    (473, -64.8), (476, -65.1), (478, -65.4), (480, -65.6), (482, -64.8), (484, -64.1), (486, -64.5), (488, -65.0),
    (490, -65.5), (492, -66.0), (494, -65.6), (496, -65.3), (499, -64.8), (501, -64.4), (503, -64.8), (505, -65.1),
    (507, -64.9), (509, -64.7), (511, -65.0), (513, -65.3), (515, -65.1), (517, -65.0), (520, -64.9), (522, -64.8),
    (524, -64.7), (526, -64.7), (528, -64.8), (530, -64.7), (532, -64.5), (534, -64.4), (536, -64.0), (538, -63.5),
    (540, -65.5), (542, -67.4), (545, -68.0), (547, -68.5), (549, -67.5), (551, -66.5), (553, -66.3), (555, -66.2),
    (557, -67.5), (559, -68.8), (561, -68.1), (563, -67.4), (565, -67.1), (567, -66.8), (570, -67.4), (572, -67.9),
    (574, -67.5), (576, -67.1), (578, -67.0), (580, -66.8), (582, -66.3), (584, -65.9), (586, -66.3), (588, -66.8),
    (590, -66.7), (592, -66.5), (594, -67.0), (597, -67.6), (599, -67.2), (601, -66.8), (603, -67.3), (605, -67.9),
    (607, -68.3), (609, -68.8), (611, -68.2), (613, -67.6), (615, -68.5), (617, -69.4), (619, -68.2), (622, -67.1),
    (624, -66.3), (626, -65.6), (628, -66.5), (630, -67.4), (632, -69.3), (634, -71.2), (636, -72.4), (638, -72.0),
    (640, -71.5), (643, -71.2), (645, -70.9), (647, -70.6), (649, -70.3), (651, -70.1), (653, -70.0), (655, -69.8),
    (657, -69.7), (659, -69.9), (661, -70.0), (663, -69.8), (665, -69.7), (668, -70.0), (670, -70.3), (672, -70.4),
    (674, -70.6), (676, -70.8), (678, -70.9), (680, -71.3), (682, -71.8), (684, -72.2), (686, -72.7), (688, -73.2),
    (690, -73.6), (692, -73.8), (695, -73.9), (697, -74.2), (699, -74.4), (701, -74.2), (703, -75.5), (705, -76.5),
    (707, -77.0), (709, -73.0), (711, -70.0), (713, -69.8), (715, -69.7), (717, -70.2), (720, -70.6), (722, -70.4),
    (724, -70.3), (726, -71.0), (728, -71.8), (730, -72.6), (732, -73.3), (734, -74.2), (736, -75.0), (738, -75.4),
    (741, -75.9), (743, -75.4), (745, -75.0), (747, -75.3), (749, -75.6), (751, -76.2), (753, -76.8), (755, -76.5),
    (757, -76.2), (759, -75.9), (761, -75.6), (763, -76.2), (766, -76.8), (768, -78.0), (770, -79.2), (772, -80.2),
    (774, -81.2), (776, -81.7), (777, -82.1), (779, -81.6), (780, -81.2), (782, -80.8), (784, -80.4), (786, -78.3),
    (789, -76.2), (791, -74.8), (793, -73.3), (795, -72.7), (797, -72.1), (799, -71.6), (801, -71.2), (803, -71.5),
    (805, -71.8), (807, -71.8), (809, -71.8), (811, -72.2), (814, -72.7), (816, -73.0), (818, -73.3), (820, -73.6),
    (822, -73.9), (824, -74.2), (826, -74.4), (828, -74.8), (830, -75.3), (832, -75.8), (834, -76.2), (836, -76.8),
    (839, -77.4), (841, -78.6), (842, -79.8), (844, -79.0), (845, -78.6), (847, -78.4), (849, -78.3), (851, -79.5),
    (853, -80.6), (855, -80.8), (857, -81.0), (860, -79.8), (862, -78.6), (864, -77.4), (866, -76.2), (868, -74.5),
    (870, -72.7), (872, -71.8), (874, -70.9), (876, -70.6), (878, -70.3), (880, -70.1), (882, -70.0), (885, -70.2),
    (887, -70.1), (889, -70.3), (892, -70.0), (895, -69.7), (898, -70.2), (901, -70.6), (904, -71.2), (907, -71.8),
    (910, -72.8), (912, -73.5), (914, -73.9), (917, -73.3), (920, -72.7), (923, -72.1), (926, -71.5), (929, -71.1),
    (932, -70.6), (935, -70.5), (939, -70.3), (942, -70.0), (945, -69.7), (947, -70.3), (949, -70.9), (951, -70.3),
    (953, -69.7), (955, -69.4), (957, -69.1), (960, -68.8), (962, -68.6), (964, -68.5), (966, -69.1), (968, -69.7),
    (971, -70.7), (974, -71.8), (976, -72.5), (978, -73.3), (980, -74.8), (982, -76.2), (984, -78.5), (985, -79.5),
    (987, -79.8),
]

# ---------------- annotated zones and distances ----------------
top_zones = [(1172, 1346, -80.9, -50.7), (1680, 1854, -81.7, -51.7)]      # x0, x1, y0, y1
bot_zones = [(162, 334, -82.4, -59.0), (710, 883, -83.1, -59.7)]
top_markers = [1212.5, 1294.3, 1721.6, 1792.4]                          # position (m)
bot_markers = [191.5, 290.4, 767.2, 843.6]
top_span_text = ["90 m", "425 m", "75 m"]
top_span_pos = [1248, 1518, 1762]
bot_span_text = ["100 m", "475 m", "75 m"]
bot_span_pos = [244, 508, 808]
top_scale_extent = (1062, 1996)
bot_scale_extent = (53, 989)

W, H = 877, 1164


def px_x(p):
    return p / W


def px_y(p):
    return 1 - p / H


fig = go.Figure()


def add_line(pairs, color, dash, width, xa, ya):
    xs = [p for p, _ in pairs]
    ys = [v for _, v in pairs]
    fig.add_trace(go.Scatter(x=xs, y=ys, mode="lines", xaxis=xa, yaxis=ya,
                             line=dict(color=color, width=width, dash=dash),
                             showlegend=False, hoverinfo="skip"))


add_line(top_black, "#1a1a1a", "2px,2px", 1.1, "x", "y")
add_line(top_red, "#ff0000", "solid", 1.0, "x", "y")
add_line(top_blue, "#0000ff", "solid", 1.0, "x", "y")

add_line(bot_black, "#1a1a1a", "7px,4px", 1.3, "x2", "y2")
add_line(bot_red, "#ff0000", "solid", 1.0, "x2", "y2")
add_line(bot_blue, "#0000ff", "solid", 1.0, "x2", "y2")

axis_style = dict(showline=True, linecolor="#6b6b6b", linewidth=1.2, mirror="ticks",
                  ticks="inside", ticklen=6, tickcolor="#6b6b6b", tickwidth=1,
                  showgrid=False, zeroline=False, automargin=False,
                  tickfont=dict(family="Arial, Liberation Sans, sans-serif", size=9, color="#262626"))

fig.update_layout(
    width=W, height=H,
    margin=dict(l=0, r=0, t=0, b=0, pad=0, autoexpand=False),
    paper_bgcolor="white", plot_bgcolor="white",
    xaxis=dict(domain=[px_x(46), px_x(865)], range=[1000, 2000], anchor="y",
               tickvals=list(range(1000, 2001, 100)), **axis_style),
    yaxis=dict(domain=[px_y(458), px_y(47.7)], range=[-85, -40], anchor="x",
               tickvals=list(range(-85, -39, 5)), **axis_style),
    xaxis2=dict(domain=[px_x(55), px_x(854)], range=[0, 1000], anchor="y2",
                tickvals=list(range(0, 1001, 100)), **axis_style),
    yaxis2=dict(domain=[px_y(1039), px_y(644.3)], range=[-85, -50], anchor="x2",
                tickvals=list(range(-85, -49, 5)), **axis_style),
)

shapes = []
zone_fill = "rgba(255,255,160,0.6)"
for (x0, x1, y0, y1) in top_zones:
    shapes.append(dict(type="rect", xref="x", yref="y", x0=x0, x1=x1, y0=y0, y1=y1,
                       fillcolor=zone_fill, line=dict(color="#ff0000", width=3.5), layer="above"))
for (x0, x1, y0, y1) in bot_zones:
    shapes.append(dict(type="rect", xref="x2", yref="y2", x0=x0, x1=x1, y0=y0, y1=y1,
                       fillcolor=zone_fill, line=dict(color="#ff0000", width=3.5), layer="above"))

marker_color = "#4a7ebb"
for m in top_markers:
    shapes.append(dict(type="line", xref="x", yref="paper", x0=m, x1=m,
                       y0=px_y(578), y1=px_y(9), line=dict(color=marker_color, width=1.2), layer="above"))
for m in bot_markers:
    shapes.append(dict(type="line", xref="x2", yref="paper", x0=m, x1=m,
                       y0=px_y(1164), y1=px_y(610), line=dict(color=marker_color, width=1.2), layer="above"))

shapes.append(dict(type="line", xref="x", yref="paper", x0=top_scale_extent[0], x1=top_scale_extent[1],
                   y0=px_y(560.7), y1=px_y(560.7), line=dict(color="#8db3e2", width=2), layer="above"))
shapes.append(dict(type="line", xref="x2", yref="paper", x0=bot_scale_extent[0], x1=bot_scale_extent[1],
                   y0=px_y(1146.3), y1=px_y(1146.3), line=dict(color=marker_color, width=1.4), layer="above"))
fig.update_layout(shapes=shapes)

annotations = []
label_font = dict(family="Arial, Liberation Sans, sans-serif", size=9, color="#262626")
annotations.append(dict(text="RSSI vs position", xref="paper", yref="paper", x=px_x(452.5), y=px_y(36.5),
                        showarrow=False, font=label_font, xanchor="center", yanchor="middle"))
annotations.append(dict(text="RSSI x vs posicion, sincronizados, IDA 1-2", xref="paper", yref="paper",
                        x=px_x(452.5), y=px_y(632), showarrow=False, font=label_font,
                        xanchor="center", yanchor="middle"))
annotations.append(dict(text="Position (m)", xref="paper", yref="paper", x=px_x(455), y=px_y(479),
                        showarrow=False, font=label_font, xanchor="center", yanchor="middle"))
annotations.append(dict(text="Posicion (m)", xref="paper", yref="paper", x=px_x(455), y=px_y(1060.5),
                        showarrow=False, font=label_font, xanchor="center", yanchor="middle"))
annotations.append(dict(text="RSSI (dBm)", xref="paper", yref="paper", x=px_x(17.5), y=px_y(253),
                        showarrow=False, font=label_font, textangle=-90, xanchor="center", yanchor="middle"))
annotations.append(dict(text="RSSI (dBm)", xref="paper", yref="paper", x=px_x(26.5), y=px_y(841.5),
                        showarrow=False, font=label_font, textangle=-90, xanchor="center", yanchor="middle"))

span_font = dict(family="Lato, Open Sans, sans-serif", size=15, color="#111111")
for txt, pos in zip(top_span_text, top_span_pos):
    annotations.append(dict(text=txt, xref="x", yref="paper", x=pos, y=px_y(553), showarrow=False,
                            font=span_font, xanchor="center", yanchor="middle"))
for txt, pos in zip(bot_span_text, bot_span_pos):
    annotations.append(dict(text=txt, xref="x2", yref="paper", x=pos, y=px_y(1139), showarrow=False,
                            font=span_font, xanchor="center", yanchor="middle"))
fig.update_layout(annotations=annotations)

fig.write_html("out.html")
